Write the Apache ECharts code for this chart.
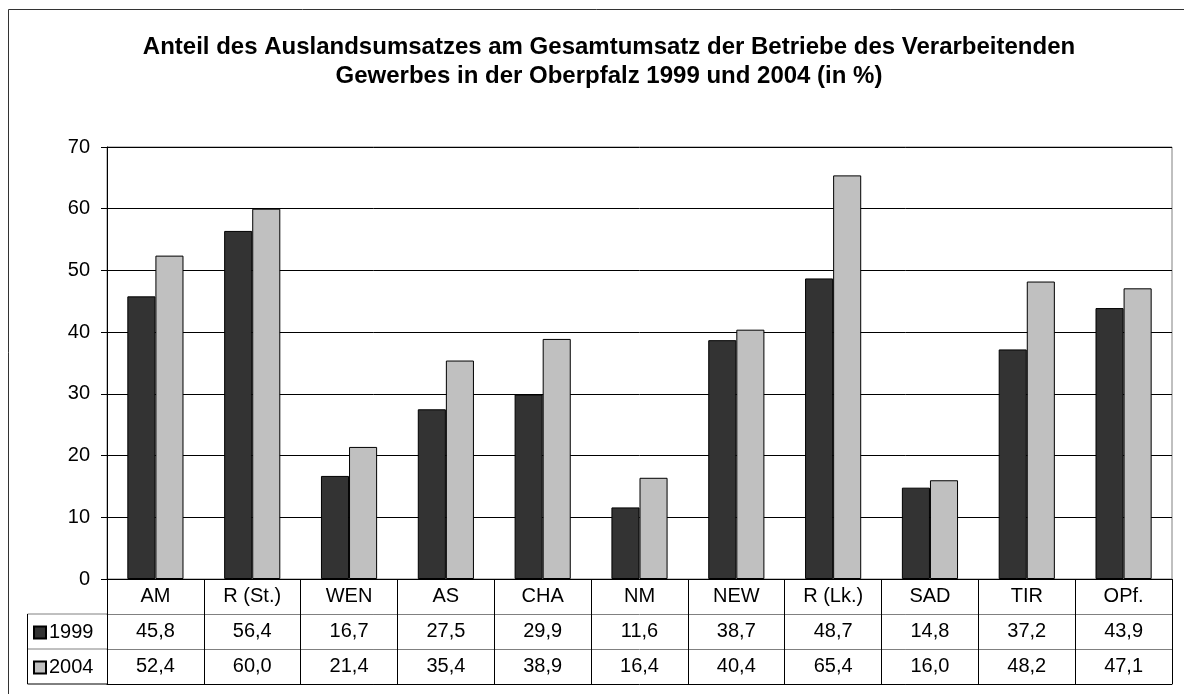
<!DOCTYPE html>
<html>
<head>
<meta charset="utf-8">
<script src="https://cdn.jsdelivr.net/npm/echarts@6/dist/echarts.min.js"></script>
<style>
  html, body { margin: 0; padding: 0; background: #fff; }
  #chart { width: 1184px; height: 694px; }
</style>
</head>
<body>
<div id="chart"></div>
<script>
var categories = ['AM', 'R (St.)', 'WEN', 'AS', 'CHA', 'NM', 'NEW', 'R (Lk.)', 'SAD', 'TIR', 'OPf.']
var values1999 = [45.8, 56.4, 16.7, 27.5, 29.9, 11.6, 38.7, 48.7, 14.8, 37.2, 43.9]
var values2004 = [52.4, 60.0, 21.4, 35.4, 38.9, 16.4, 40.4, 65.4, 16.0, 48.2, 47.1]
var yTicks = [0, 10, 20, 30, 40, 50, 60, 70]

var font = "'Liberation Sans', Arial, sans-serif"
var labelSize = 20
var gridLeft = 107
var gridRight = 1172
var gridTop = 147
var gridBottom = 579
var rowH = 35

function fmt (v) {
  return v.toFixed(1).replace('.', ',')
}

var chart = echarts.init(document.getElementById('chart'))

function tableRowAxis (data, offset) {
  return {
    type: 'category',
    gridIndex: 0,
    position: 'bottom',
    offset: offset,
    data: data,
    axisLine: { show: true, lineStyle: { color: '#808080', width: 1 } },
    axisTick: { show: false },
    axisLabel: {
      show: true,
      margin: rowH / 2,
      verticalAlign: 'middle',
      color: '#000',
      fontSize: labelSize,
      fontFamily: font
    },
    splitLine: { show: false }
  }
}

function legendRow (name, top) {
  return {
    data: [name],
    left: 28,
    top: top,
    itemWidth: 12,
    itemHeight: 12,
    itemGap: 4,
    icon: 'rect',
    textStyle: { fontSize: labelSize, color: '#000', fontFamily: font, padding: [0, 0, 0, -2] },
    selectedMode: false
  }
}

chart.setOption({
  animation: false,
  backgroundColor: '#fff',
  textStyle: { fontFamily: font },
  title: {
    text: 'Anteil des Auslandsumsatzes am Gesamtumsatz der Betriebe des Verarbeitenden\nGewerbes in der Oberpfalz 1999 und 2004 (in %)',
    left: 604,
    top: 28,
    textAlign: 'center',
    textStyle: {
      fontSize: 24,
      fontWeight: 'bold',
      color: '#000',
      fontFamily: font,
      lineHeight: 29
    }
  },
  legend: [
    legendRow('1999', gridBottom + rowH * 1.5 - 14),
    legendRow('2004', gridBottom + rowH * 2.5 - 14)
  ],
  grid: {
    left: gridLeft,
    top: gridTop,
    width: gridRight - gridLeft,
    height: gridBottom - gridTop,
    show: true,
    borderColor: '#808080',
    borderWidth: 1,
    backgroundColor: '#fff'
  },
  xAxis: [
    {
      type: 'category',
      data: categories,
      position: 'bottom',
      axisLine: { show: true, lineStyle: { color: '#000', width: 1 } },
      axisTick: { show: true, length: rowH * 3, lineStyle: { color: '#000', width: 1 } },
      axisLabel: {
        margin: rowH / 2,
        verticalAlign: 'middle',
        interval: 0,
        color: '#000',
        fontSize: labelSize,
        fontFamily: font
      },
      splitLine: { show: false }
    },
    tableRowAxis(values1999.map(fmt), rowH),
    tableRowAxis(values2004.map(fmt), rowH * 2),
    {
      type: 'category',
      position: 'bottom',
      offset: rowH * 3,
      data: categories,
      axisLine: { show: true, lineStyle: { color: '#000', width: 1 } },
      axisTick: { show: false },
      axisLabel: { show: false }
    }
  ],
  yAxis: {
    type: 'value',
    min: 0,
    max: 70,
    interval: 10,
    axisLine: { show: true, lineStyle: { color: '#000', width: 1 } },
    axisTick: { show: true, length: 6, lineStyle: { color: '#000' } },
    axisLabel: {
      margin: 17,
      color: '#000',
      fontSize: labelSize,
      fontFamily: font,
      formatter: function (v) { return yTicks.indexOf(v) >= 0 ? String(v) : '' }
    },
    splitLine: { show: true, lineStyle: { color: '#000', width: 1 } }
  },
  series: [
    {
      name: '1999',
      type: 'bar',
      xAxisIndex: 0,
      data: values1999,
      barGap: '0%',
      barCategoryGap: '42%',
      itemStyle: { color: '#333333', borderColor: '#000', borderWidth: 1 }
    },
    {
      name: '2004',
      type: 'bar',
      xAxisIndex: 0,
      data: values2004,
      barGap: '0%',
      barCategoryGap: '42%',
      itemStyle: { color: '#c0c0c0', borderColor: '#000', borderWidth: 1 }
    }
  ],
  graphic: [
    {
      // outer chart frame
      type: 'rect',
      shape: { x: 8.5, y: 9.5, width: 1200, height: 720 },
      style: { fill: 'none', stroke: '#333', lineWidth: 1 },
      z: 0
    },
    // legend part of the data table
    {
      type: 'line',
      shape: { x1: 27.5, y1: gridBottom + rowH, x2: gridLeft, y2: gridBottom + rowH },
      style: { stroke: '#808080', lineWidth: 1 }
    },
    {
      type: 'line',
      shape: { x1: 27.5, y1: gridBottom + rowH * 2, x2: gridLeft, y2: gridBottom + rowH * 2 },
      style: { stroke: '#808080', lineWidth: 1 }
    },
    {
      type: 'line',
      shape: { x1: 27.5, y1: gridBottom + rowH * 3, x2: gridLeft, y2: gridBottom + rowH * 3 },
      style: { stroke: '#000', lineWidth: 1 }
    },
    {
      type: 'line',
      shape: { x1: 27.5, y1: gridBottom + rowH, x2: 27.5, y2: gridBottom + rowH * 3 },
      style: { stroke: '#000', lineWidth: 1 }
    }
  ]
})
</script>
</body>
</html>
